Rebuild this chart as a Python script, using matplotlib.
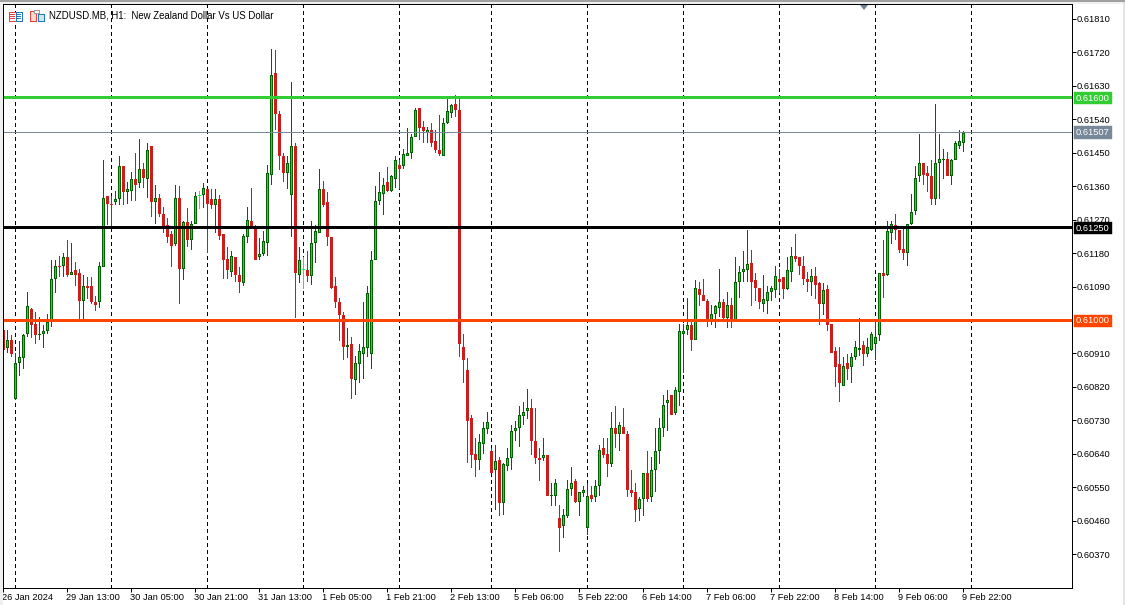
import matplotlib
matplotlib.use('Agg')
import matplotlib.pyplot as plt
from matplotlib.patches import Rectangle, Polygon
from matplotlib.transforms import Affine2D
import numpy as np

# prices in points (0.00001), one bar per hour
opens = [60977, 60926, 60950, 60789, 60888, 60899, 60964, 61031, 60993, 60961, 60966, 60972, 60996, 61112, 61149, 61147, 61171, 61125, 61136, 61128,
         61055, 61095, 61095, 61050, 61050, 61144, 61335, 61316, 61319, 61329, 61416, 61346, 61351, 61381, 61370, 61410, 61383, 61470, 61319, 61332,
         61289, 61257, 61233, 61206, 61332, 61141, 61265, 61219, 61262, 61340, 61338, 61354, 61327, 61311, 61327, 61233, 61168, 61133, 61171, 61125,
         61101, 61225, 61268, 61249, 61171, 61179, 61211, 61394, 61666, 61556, 61445, 61397, 61340, 61470, 61125, 61139, 61136, 61122, 61209, 61238,
         61354, 61319, 61225, 61093, 61052, 61015, 60929, 60937, 60840, 60883, 60912, 60926, 60910, 61163, 61324, 61343, 61375, 61351, 61383, 61421,
         61416, 61443, 61451, 61496, 61572, 61523, 61507, 61513, 61483, 61459, 61445, 61534, 61561, 61583, 61569, 60929, 60869, 60738, 60643, 60627,
         60670, 60708, 60651, 60598, 60625, 60509, 60611, 60632, 60703, 60711, 60743, 60759, 60765, 60678, 60632, 60630, 60638, 60528, 60530, 60471,
         60447, 60474, 60549, 60568, 60512, 60536, 60444, 60533, 60525, 60555, 60657, 60643, 60616, 60713, 60695, 60716, 60697, 60544, 60539, 60493,
         60522, 60592, 60525, 60598, 60651, 60711, 60778, 60800, 60751, 60810, 60966, 60977, 60988, 60950, 61087, 61071, 61055, 61001, 61018, 61036,
         61052, 61007, 61042, 60996, 61104, 61133, 61136, 61155, 61109, 61090, 61047, 61055, 61077, 61082, 61114, 61117, 61085, 61133, 61174, 61171,
         61149, 61114, 61106, 61120, 61101, 61047, 61085, 60991, 60918, 60883, 60826, 60886, 60875, 60904, 60921, 60934, 60910, 60923, 60939, 60961,
         61128, 61125, 61238, 61257, 61246, 61195, 61182, 61260, 61297, 61389, 61424, 61397, 61389, 61329, 61426, 61432, 61437, 61389, 61434, 61472,
         61480]
highs = [60982, 60977, 60961, 60915, 60945, 60964, 61077, 61036, 61023, 61012, 60988, 61020, 61165, 61163, 61176, 61182, 61217, 61209, 61160, 61141,
         61125, 61117, 61117, 61066, 61160, 61434, 61335, 61335, 61351, 61443, 61416, 61375, 61400, 61451, 61491, 61424, 61478, 61470, 61367, 61343,
         61308, 61278, 61241, 61367, 61362, 61270, 61305, 61270, 61348, 61351, 61370, 61354, 61356, 61356, 61338, 61233, 61198, 61187, 61171, 61144,
         61233, 61308, 61359, 61257, 61222, 61241, 61421, 61733, 61728, 61566, 61453, 61445, 61644, 61478, 61198, 61171, 61187, 61270, 61257, 61408,
         61378, 61348, 61225, 61117, 61063, 61023, 60980, 60958, 60907, 60937, 61050, 61093, 61187, 61362, 61400, 61386, 61413, 61394, 61445, 61432,
         61464, 61518, 61504, 61574, 61574, 61539, 61521, 61534, 61515, 61553, 61545, 61596, 61585, 61607, 61596, 60964, 60899, 60746, 60686, 60697,
         60729, 60754, 60657, 60665, 60635, 60619, 60657, 60719, 60732, 60770, 60781, 60816, 60789, 60767, 60657, 60686, 60638, 60563, 60576, 60506,
         60493, 60571, 60608, 60576, 60541, 60555, 60563, 60555, 60571, 60665, 60684, 60684, 60754, 60770, 60729, 60767, 60705, 60600, 60565, 60525,
         60592, 60651, 60635, 60711, 60738, 60800, 60813, 60802, 60821, 60991, 60991, 61063, 60996, 61109, 61106, 61114, 61058, 61042, 61042, 61141,
         61058, 61077, 61061, 61171, 61149, 61187, 61246, 61190, 61128, 61090, 61125, 61095, 61095, 61149, 61141, 61117, 61171, 61198, 61233, 61171,
         61174, 61133, 61139, 61144, 61106, 61101, 61098, 60991, 60931, 60931, 60904, 60910, 60915, 60947, 61009, 60945, 60953, 60969, 61001, 61128,
         61217, 61270, 61270, 61289, 61246, 61252, 61262, 61343, 61416, 61502, 61424, 61418, 61432, 61583, 61502, 61464, 61456, 61437, 61483, 61515,
         61510]
lows = [60915, 60915, 60902, 60786, 60853, 60872, 60956, 60953, 60937, 60950, 60926, 60966, 60985, 61074, 61117, 61117, 61117, 61125, 61095, 61004,
        61004, 61058, 61047, 61028, 61036, 61144, 61257, 61254, 61313, 61311, 61311, 61316, 61324, 61324, 61359, 61359, 61332, 61281, 61260, 61281,
        61238, 61211, 61144, 61203, 61047, 61109, 61200, 61192, 61260, 61300, 61303, 61182, 61300, 61238, 61219, 61114, 61114, 61117, 61106, 61074,
        61093, 61209, 61249, 61165, 61163, 61176, 61176, 61365, 61513, 61405, 61375, 61356, 61227, 61007, 61101, 61087, 61106, 61098, 61157, 61238,
        61308, 61203, 61085, 61034, 60947, 60896, 60899, 60791, 60800, 60834, 60845, 60904, 60872, 61163, 61311, 61284, 61346, 61348, 61359, 61356,
        61408, 61443, 61437, 61496, 61486, 61478, 61478, 61467, 61453, 61443, 61445, 61529, 61545, 61550, 60904, 60832, 60619, 60603, 60581, 60600,
        60643, 60695, 60590, 60490, 60474, 60477, 60595, 60598, 60676, 60662, 60719, 60735, 60638, 60616, 60568, 60622, 60528, 60501, 60503, 60377,
        60415, 60469, 60530, 60509, 60474, 60525, 60423, 60512, 60514, 60528, 60632, 60579, 60606, 60657, 60649, 60695, 60525, 60525, 60460, 60463,
        60474, 60512, 60512, 60539, 60616, 60689, 60705, 60748, 60746, 60770, 60859, 60961, 60918, 60950, 61039, 61055, 60985, 60988, 60982, 61012,
        61004, 60982, 60980, 60996, 61061, 61104, 61104, 61039, 61055, 61031, 61023, 61018, 61055, 61061, 61074, 61058, 61082, 61106, 61160, 61125,
        61098, 61077, 61066, 61058, 60988, 61015, 60974, 60915, 60821, 60783, 60826, 60840, 60832, 60894, 60907, 60880, 60904, 60918, 60894, 60947,
        61061, 61122, 61206, 61219, 61182, 61163, 61149, 61257, 61284, 61375, 61365, 61346, 61313, 61313, 61329, 61383, 61389, 61367, 61434, 61464,
        61456]
closes = [60923, 60950, 60910, 60886, 60902, 60961, 61039, 60988, 60961, 60966, 60974, 60996, 61114, 61149, 61144, 61171, 61125, 61133, 61125, 61055,
          61093, 61090, 61050, 61044, 61147, 61332, 61316, 61313, 61329, 61418, 61346, 61354, 61383, 61367, 61410, 61386, 61461, 61319, 61332, 61287,
          61252, 61227, 61203, 61332, 61141, 61265, 61219, 61262, 61335, 61340, 61359, 61316, 61313, 61327, 61230, 61165, 61136, 61174, 61125, 61104,
          61230, 61273, 61252, 61165, 61179, 61214, 61397, 61661, 61556, 61443, 61397, 61426, 61472, 61128, 61163, 61139, 61122, 61211, 61241, 61356,
          61313, 61225, 61090, 61052, 61015, 60929, 60934, 60843, 60888, 60918, 60929, 61074, 61165, 61322, 61348, 61367, 61351, 61389, 61434, 61410,
          61448, 61451, 61496, 61569, 61518, 61510, 61513, 61480, 61459, 61448, 61534, 61564, 61580, 61569, 60937, 60894, 60732, 60638, 60627, 60673,
          60711, 60727, 60590, 60622, 60509, 60614, 60632, 60705, 60711, 60746, 60756, 60765, 60676, 60630, 60625, 60638, 60528, 60530, 60565, 60442,
          60477, 60549, 60565, 60512, 60541, 60544, 60530, 60522, 60555, 60654, 60638, 60616, 60713, 60695, 60719, 60697, 60544, 60536, 60490, 60522,
          60592, 60522, 60600, 60651, 60713, 60775, 60786, 60748, 60813, 60974, 60974, 60988, 60950, 61090, 61069, 61055, 61001, 61020, 61039, 61050,
          61007, 61042, 60996, 61106, 61133, 61141, 61152, 61106, 61090, 61052, 61058, 61079, 61090, 61122, 61104, 61085, 61136, 61176, 61168, 61149,
          61114, 61104, 61122, 61098, 61047, 61082, 60988, 60915, 60877, 60832, 60880, 60872, 60904, 60929, 60926, 60910, 60929, 60964, 60958, 61128,
          61122, 61241, 61260, 61246, 61192, 61182, 61260, 61292, 61386, 61426, 61392, 61389, 61327, 61426, 61437, 61437, 61389, 61434, 61480, 61483,
          61507]

# bar numbers of the day separators and of the time axis labels
day_sep_bars = [3, 27, 51, 75, 99, 122, 146, 170, 194, 218, 242]
time_tick_bars = [0, 16, 32, 48, 64, 80, 96, 112, 128, 144, 160, 176, 192, 208, 224, 240]
time_labels = ['26 Jan 2024', '29 Jan 13:00', '30 Jan 05:00', '30 Jan 21:00', '31 Jan 13:00', '1 Feb 05:00', '1 Feb 21:00', '2 Feb 13:00',
               '5 Feb 06:00', '5 Feb 22:00', '6 Feb 14:00', '7 Feb 06:00', '7 Feb 22:00', '8 Feb 14:00', '9 Feb 06:00', '9 Feb 22:00']

price_ticks = [0.61810, 0.61720, 0.61630, 0.61540, 0.61450, 0.61360, 0.61270, 0.61180, 0.61090,
               0.60910, 0.60820, 0.60730, 0.60640, 0.60550, 0.60460, 0.60370]

# horizontal levels and their boxes on the price axis
level_prices = [0.61600, 0.61507, 0.61250, 0.61000]
level_colors = ['#32cd32', '#778899', '#000000', '#ff4500']
level_widths = [3, 1, 3, 3]

title = 'NZDUSD.MB, H1:  New Zealand Dollar Vs US Dollar'

FONT = 'Liberation Sans'
W, H = 1125, 605
px = 0.72  # one pixel in points

opens, highs, lows, closes = [np.array(a) / 1e5 for a in (opens, highs, lows, closes)]
bars = np.arange(len(opens))

fig = plt.figure(figsize=(W / 100, H / 100), dpi=100, facecolor='white')
ax = fig.add_axes([2.5 / W, (H - 588) / H, (1071.5 - 2.5) / W, (588 - 4) / H])
ax.set_xlim(0, (1071.5 - 2.5) / 4)
ax.set_ylim(0.602787, 0.618503)

up = closes > opens
down = closes < opens
flat = closes == opens

# the outline sits one pixel inside the top of each candle
one_px = (0.618503 - 0.602787) / 584
tops = highs - one_px
body_low = np.minimum(opens, closes)
body_high = np.maximum(body_low, np.maximum(opens, closes) - one_px)

ax.vlines(day_sep_bars, 0, 1, transform=ax.get_xaxis_transform(), colors='black', linewidth=px,
          linestyles=(0, (3, 3)), capstyle='butt', zorder=1, antialiased=False)

ax.vlines(bars[up], lows[up], tops[up], colors='#006400', linewidth=px, zorder=2, antialiased=False)
ax.vlines(bars[down], lows[down], tops[down], colors='#b22222', linewidth=px, zorder=2, antialiased=False)
ax.vlines(bars[flat], lows[flat], tops[flat], colors='#00ff40', linewidth=px, zorder=2, antialiased=False)

ax.bar(bars[up], (body_high - body_low)[up], bottom=body_low[up], width=0.5, color='#00f000', edgecolor='#006400',
       linewidth=px, zorder=3, antialiased=False)
ax.bar(bars[down], (body_high - body_low)[down], bottom=body_low[down], width=0.5, color='#cd1c1c', edgecolor='#cd1c1c',
       linewidth=px, zorder=3, antialiased=False)
ax.bar(bars[flat], 0, bottom=body_low[flat] - one_px, width=0.5, color='#00ff40', edgecolor='#00ff40',
       linewidth=px, zorder=3, antialiased=False)

for price, col, lw in zip(level_prices, level_colors, level_widths):
    ax.axhline(price, color=col, linewidth=lw * px, zorder=5, antialiased=False)

for s in ['left', 'right', 'top', 'bottom']:
    ax.spines[s].set_linewidth(px)
    ax.spines[s].set_color('black')
    ax.spines[s].set_zorder(6)

ax.yaxis.tick_right()
ax.set_yticks(price_ticks)
ax.set_yticklabels([f'{p:.5f}' for p in price_ticks], fontfamily=FONT, fontsize=6.7)
ax.tick_params(axis='y', length=3, width=px, pad=1, colors='black')

ax.set_xticks(time_tick_bars)
ax.set_xticklabels(time_labels, fontfamily=FONT, fontsize=6.7, ha='left')
ax.tick_params(axis='x', length=3, width=px, pad=0.6, colors='black')

# value boxes on the price axis
boxes = ax.get_yaxis_transform()
for price, col in zip(level_prices, level_colors):
    ax.annotate(f'{price:.5f}', xy=(1, price), xycoords=boxes, xytext=(21.5, 0), textcoords='offset pixels',
                ha='center', va='center_baseline', color='white', fontfamily=FONT, fontsize=6.7, zorder=8,
                annotation_clip=False,
                bbox=dict(boxstyle='square,pad=0.18', facecolor=col, edgecolor=col, linewidth=0.3))

# window frame and the small toolbar icons, all in pixels from the top left
to_px = Affine2D().scale(1, -1).translate(0, H)


def box(x, y, w, h, face, edge='none', lw=0.0):
    fig.add_artist(Rectangle((x, y), w, h, transform=to_px, facecolor=face, edgecolor=edge, linewidth=lw,
                             antialiased=False))


box(0, 0, W, 2, '#a0a0a0')
box(0, 2, W, 2, '#f0f0f0')
box(0, 2, 3, H - 2, '#f0f0f0')
box(W - 2, 2, 2, H - 2, '#e4e4e4')
fig.add_artist(Polygon([(860, 5), (868, 5), (864, 10)], transform=to_px, facecolor='#708090', edgecolor='none'))

box(8.5, 11.5, 7, 9, 'white', '#e8403c', px)
box(15.5, 11.5, 6.5, 9, 'white', '#1f78c0', px)
for yy in [14, 16, 18]:
    box(10, yy, 5, 1, '#e8403c')
    box(17, yy, 4, 1, '#1f78c0')
box(29.5, 10.5, 6, 10, '#fdd9d0', '#e8403c', px)
box(37.5, 13.5, 6, 7, '#cfe6f7', '#1f78c0', px)
box(34, 10, 5, 3, 'white', '#a0a0a0', px)

fig.text(49 / W, 1 - 15 / H, title, fontfamily=FONT, fontsize=6.9, color='black', ha='left', va='center')

fig.savefig('out.png', dpi=100)
